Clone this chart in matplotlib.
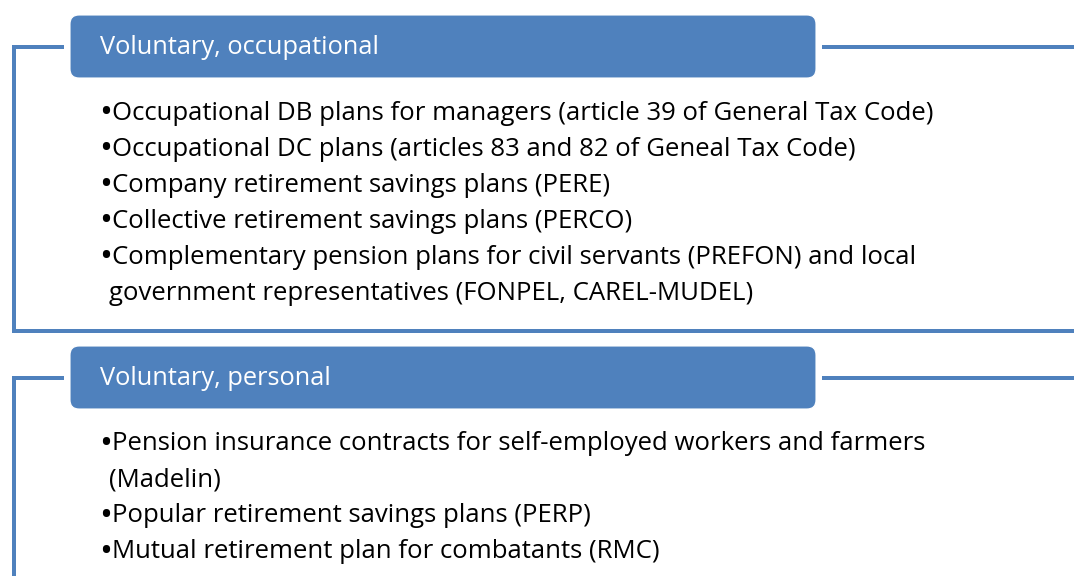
import matplotlib.pyplot as plt
from matplotlib.patches import FancyBboxPatch

# section titles and their bullet items (wrapped as in the original)
titles = ["Voluntary, occupational", "Voluntary, personal"]
items_occupational = [
    ["Occupational DB plans for managers (article 39 of General Tax Code)"],
    ["Occupational DC plans (articles 83 and 82 of Geneal Tax Code)"],
    ["Company retirement savings plans (PERE)"],
    ["Collective retirement savings plans (PERCO)"],
    ["Complementary pension plans for civil servants (PREFON) and local",
     "government representatives (FONPEL, CAREL-MUDEL)"],
]
items_personal = [
    ["Pension insurance contracts for self-employed workers and farmers",
     "(Madelin)"],
    ["Popular retirement savings plans (PERP)"],
    ["Mutual retirement plan for combatants (RMC)"],
]

blue = "#4F81BD"
font = "Open Sans"
W, H = 1074, 576

fig = plt.figure(figsize=(W / 100, H / 100), dpi=100)
ax = fig.add_axes([0, 0, 1, 1])
ax.set_xlim(0, W)
ax.set_ylim(H, 0)
ax.axis("off")

lw = 4 * 72 / 100


def section(title, items, box_top, frame_bottom):
    box_h = 63
    mid = box_top + box_h / 2
    # frame line: stub, left side, bottom (if any), right tail
    xs = [64, 14, 14]
    ys = [mid, mid, frame_bottom]
    if frame_bottom < H:
        xs.append(W + 5)
        ys.append(frame_bottom)
    ax.plot(xs, ys, color=blue, lw=lw, solid_capstyle="butt",
            solid_joinstyle="miter")
    ax.plot([822, W + 5], [mid, mid], color=blue, lw=lw,
            solid_capstyle="butt")
    box = FancyBboxPatch((70, box_top), 746, box_h,
                         boxstyle="round,pad=0,rounding_size=9",
                         fc=blue, ec="white", lw=0.8)
    ax.add_patch(box)
    ax.text(100, mid + 1, title, color="white", fontsize=18.3, family=font,
            va="center", ha="left")
    y = box_top + 98
    for lines in items:
        for k, line in enumerate(lines):
            if k == 0:
                ax.text(99, y + 1, "\u2022", fontsize=25, family=font,
                        va="center", ha="left", color="black")
                ax.text(112, y, line, fontsize=18.5, family=font,
                        va="center", ha="left", color="black")
            else:
                ax.text(109, y, line, fontsize=18.5, family=font,
                        va="center", ha="left", color="black")
            y += 36


section(titles[0], items_occupational, 15, 331)
section(titles[1], items_personal, 346, H + 10)

fig.savefig("out.png", dpi=100, facecolor="white")
